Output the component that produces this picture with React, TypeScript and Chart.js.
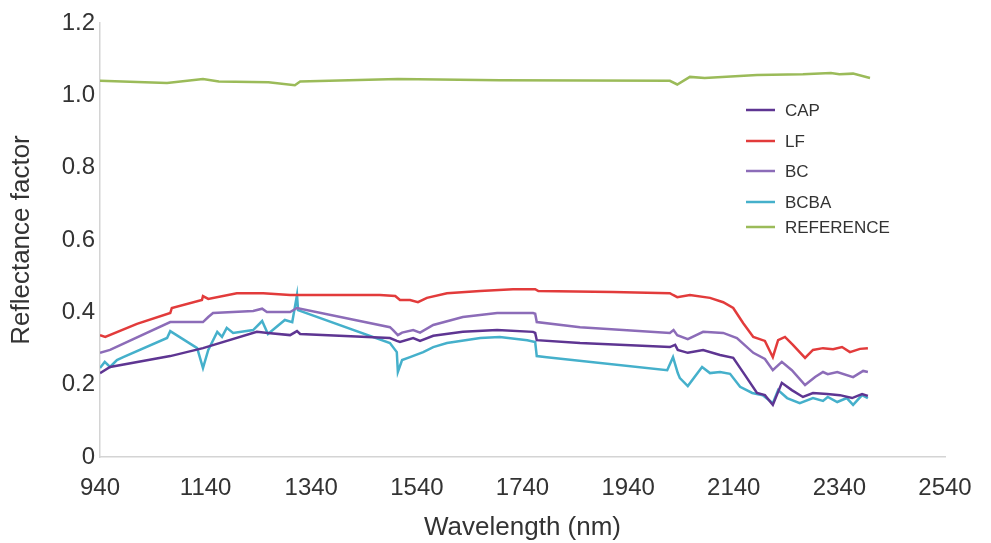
import React, { useEffect, useRef } from "react";
import { Chart, registerables } from "chart.js";

Chart.register(...registerables);

// ---- data (wavelength in nm, reflectance factor) ----
const seriesLabels = ["CAP", "LF", "BC", "BCBA", "REFERENCE"];

const capNm = [940, 959, 1073, 1135, 1237, 1258, 1300, 1313, 1319, 1489, 1502, 1508, 1533, 1546, 1571, 1627, 1692, 1760, 1764, 1767, 1849, 2019, 2029, 2034, 2053, 2082, 2114, 2139, 2161, 2184, 2199, 2214, 2231, 2250, 2271, 2290, 2317, 2341, 2364, 2383, 2394];
const capVal = [0.232, 0.249, 0.279, 0.301, 0.346, 0.343, 0.337, 0.348, 0.340, 0.329, 0.321, 0.318, 0.329, 0.321, 0.335, 0.346, 0.351, 0.346, 0.343, 0.323, 0.315, 0.304, 0.310, 0.296, 0.288, 0.296, 0.282, 0.274, 0.227, 0.177, 0.171, 0.144, 0.205, 0.185, 0.166, 0.177, 0.174, 0.171, 0.163, 0.174, 0.169];

const lfNm = [940, 950, 1010, 1073, 1076, 1133, 1135, 1145, 1199, 1249, 1300, 1470, 1499, 1508, 1527, 1542, 1559, 1597, 1660, 1722, 1764, 1770, 1911, 2019, 2025, 2033, 2057, 2095, 2120, 2139, 2158, 2177, 2199, 2214, 2224, 2237, 2252, 2275, 2290, 2309, 2328, 2345, 2360, 2379, 2394];
const lfVal = [0.337, 0.332, 0.368, 0.398, 0.412, 0.434, 0.445, 0.437, 0.453, 0.453, 0.448, 0.448, 0.445, 0.434, 0.434, 0.428, 0.440, 0.453, 0.459, 0.464, 0.464, 0.459, 0.456, 0.453, 0.448, 0.442, 0.448, 0.440, 0.428, 0.412, 0.370, 0.332, 0.321, 0.276, 0.323, 0.332, 0.310, 0.274, 0.296, 0.301, 0.298, 0.304, 0.290, 0.299, 0.301];

const bcNm = [940, 959, 1073, 1135, 1145, 1154, 1230, 1247, 1256, 1300, 1313, 1489, 1495, 1504, 1512, 1533, 1546, 1571, 1627, 1692, 1760, 1764, 1767, 1849, 2019, 2026, 2033, 2053, 2082, 2120, 2146, 2177, 2199, 2214, 2231, 2250, 2275, 2294, 2309, 2318, 2336, 2366, 2385, 2394];
const bcVal = [0.288, 0.296, 0.373, 0.373, 0.387, 0.398, 0.404, 0.410, 0.401, 0.401, 0.412, 0.359, 0.351, 0.337, 0.344, 0.351, 0.344, 0.365, 0.387, 0.398, 0.398, 0.396, 0.373, 0.359, 0.343, 0.351, 0.337, 0.326, 0.346, 0.343, 0.329, 0.288, 0.271, 0.240, 0.263, 0.240, 0.199, 0.221, 0.235, 0.229, 0.235, 0.221, 0.238, 0.235];

const bcbaNm = [940, 949, 959, 972, 984, 1067, 1073, 1124, 1135, 1145, 1162, 1171, 1180, 1192, 1230, 1247, 1258, 1290, 1304, 1313, 1315, 1489, 1502, 1504, 1512, 1527, 1552, 1571, 1597, 1660, 1697, 1749, 1764, 1767, 1786, 2014, 2025, 2034, 2038, 2053, 2080, 2095, 2114, 2133, 2152, 2175, 2195, 2214, 2224, 2241, 2265, 2290, 2309, 2318, 2336, 2354, 2366, 2383, 2394];
const bcbaVal = [0.246, 0.263, 0.249, 0.268, 0.276, 0.329, 0.348, 0.301, 0.246, 0.296, 0.346, 0.332, 0.357, 0.343, 0.351, 0.376, 0.340, 0.379, 0.373, 0.448, 0.406, 0.315, 0.290, 0.235, 0.268, 0.276, 0.290, 0.304, 0.315, 0.329, 0.332, 0.323, 0.318, 0.279, 0.276, 0.240, 0.276, 0.232, 0.218, 0.196, 0.249, 0.232, 0.235, 0.230, 0.194, 0.177, 0.171, 0.149, 0.185, 0.163, 0.149, 0.163, 0.155, 0.166, 0.152, 0.163, 0.144, 0.171, 0.163];

const refNm = [940, 1067, 1135, 1165, 1259, 1309, 1319, 1504, 1697, 2019, 2033, 2057, 2085, 2184, 2271, 2324, 2340, 2366, 2398];
const refVal = [1.040, 1.034, 1.045, 1.038, 1.036, 1.028, 1.038, 1.045, 1.042, 1.040, 1.030, 1.051, 1.048, 1.056, 1.058, 1.062, 1.058, 1.060, 1.048];

const xTickMin = 940;
const xTickMax = 2540;
const xTickStep = 200;
const yTickMin = 0;
const yTickMax = 1.2;
const yTickStep = 0.2;

const colors = ["#5e3592", "#e23b3b", "#8c6cb8", "#45b0cb", "#9bbb59"];

const FONT = "'Liberation Sans', Arial, Helvetica, sans-serif";

function toPoints(xs: number[], ys: number[]) {
  return xs.map((x, i) => ({ x, y: ys[i] }));
}

const legendPlugin = {
  id: "customLegend",
  afterDraw(chart: any) {
    const { ctx, chartArea } = chart;
    const x0 = chartArea.left + 646;
    const rows = [87, 118, 148, 179, 204];
    ctx.save();
    ctx.font = `17px ${FONT}`;
    ctx.textBaseline = "middle";
    ctx.textAlign = "left";
    chart.data.datasets.forEach((ds: any, i: number) => {
      const y = chartArea.top + rows[i];
      ctx.strokeStyle = ds.borderColor;
      ctx.lineWidth = 2.5;
      ctx.beginPath();
      ctx.moveTo(x0, y);
      ctx.lineTo(x0 + 29, y);
      ctx.stroke();
      ctx.fillStyle = "#333333";
      ctx.fillText(ds.label, x0 + 39, y + 1);
    });
    ctx.restore();
  },
};

export default function App() {
  const ref = useRef<HTMLCanvasElement | null>(null);

  useEffect(() => {
    if (!ref.current) return;
    const xs = [capNm, lfNm, bcNm, bcbaNm, refNm];
    const ys = [capVal, lfVal, bcVal, bcbaVal, refVal];
    const chart = new Chart(ref.current, {
      type: "line",
      data: {
        datasets: seriesLabels.map((label, i) => ({
          label,
          data: toPoints(xs[i], ys[i]),
          borderColor: colors[i],
          backgroundColor: colors[i],
          borderWidth: 2.5,
          pointRadius: 0,
          tension: 0,
          fill: false,
        })),
      },
      options: {
        animation: false,
        responsive: false,
        devicePixelRatio: 1,
        layout: { padding: { top: 23, right: 46, left: 0, bottom: 0 } },
        plugins: {
          legend: { display: false },
          tooltip: { enabled: false },
        },
        scales: {
          x: {
            type: "linear",
            min: xTickMin,
            max: xTickMax,
            grid: { display: false, drawTicks: false },
            border: { display: true, color: "#d4d4d4", width: 1.5 },
            ticks: {
              stepSize: xTickStep,
              autoSkip: false,
              maxRotation: 0,
              padding: 17,
              color: "#333333",
              font: { family: FONT, size: 24 },
              callback: (v: any) => String(v),
            },
            title: {
              display: true,
              text: "Wavelength (nm)",
              color: "#333333",
              font: { family: FONT, size: 26 },
              padding: { top: 0, bottom: 0 },
            },
            afterFit: (s: any) => {
              s.height = 86;
            },
          },
          y: {
            type: "linear",
            min: yTickMin,
            max: yTickMax,
            grid: { display: false, drawTicks: false },
            border: { display: true, color: "#d4d4d4", width: 1.5 },
            ticks: {
              stepSize: yTickStep,
              padding: 5,
              color: "#333333",
              font: { family: FONT, size: 24 },
              callback: (v: any) => (Math.abs(v) < 1e-9 ? "0" : Number(v).toFixed(1)),
            },
            title: {
              display: true,
              text: "Reflectance factor",
              color: "#333333",
              font: { family: FONT, size: 26 },
              padding: { top: 6, bottom: 0 },
            },
            afterFit: (s: any) => {
              s.width = 100;
            },
          },
        },
      },
      plugins: [legendPlugin],
    });
    return () => chart.destroy();
  }, []);

  return (
    <div style={{ position: "fixed", left: 0, top: 0, width: 991, height: 543, background: "#ffffff" }}>
      <canvas ref={ref} width={991} height={543} style={{ display: "block" }} />
    </div>
  );
}
